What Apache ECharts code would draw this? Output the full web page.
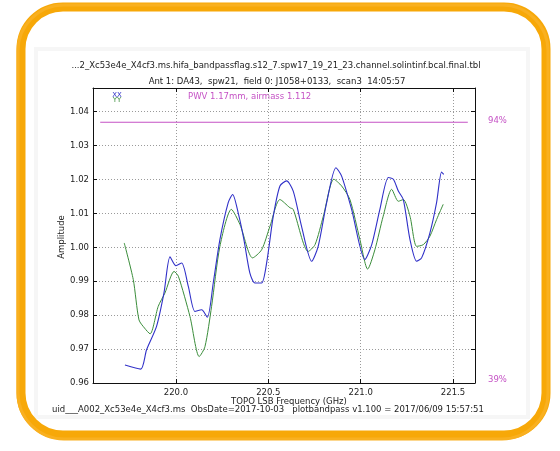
<!DOCTYPE html>
<html>
<head>
<meta charset="utf-8">
<script src="https://cdn.jsdelivr.net/npm/echarts@6/dist/echarts.min.js"></script>
<style>html,body{margin:0;padding:0;background:#fff;}#c{width:560px;height:451px;}</style>
</head>
<body>
<div id="c"></div>
<script>
// Frequencies (GHz) and amplitudes
const xxFreq = [219.724,219.809,219.841,219.895,219.935,219.968,220.0,220.031,220.067,220.103,220.139,220.17,220.202,220.238,220.283,220.307,220.337,220.368,220.40,220.428,220.464,220.491,220.527,220.563,220.599,220.635,220.68,220.735,220.77,220.816,220.866,220.897,220.951,221.023,221.06,221.104,221.15,221.177,221.204,221.231,221.267,221.303,221.33,221.375,221.411,221.438,221.45];
const xxAmp  = [0.9653,0.9641,0.9698,0.9767,0.9865,0.9972,0.9946,0.9954,0.9885,0.9811,0.9816,0.9794,0.9895,1.0023,1.0132,1.0156,1.0102,1.0023,0.9925,0.9895,0.9895,0.9954,1.0092,1.0181,1.0196,1.0166,1.0062,0.9959,1.0003,1.0132,1.0235,1.0210,1.0112,0.9964,1.0008,1.0112,1.0206,1.0201,1.0166,1.0141,1.0023,0.9959,0.9969,1.0043,1.0132,1.0222,1.0215];
const yyFreq = [219.72,219.769,219.80,219.83,219.86,219.904,219.94,219.99,220.013,220.076,220.126,220.157,220.193,220.238,220.30,220.347,220.415,220.464,220.509,220.563,220.617,220.635,220.716,220.753,220.798,220.855,220.897,220.942,220.996,221.038,221.077,221.122,221.168,221.204,221.231,221.267,221.303,221.339,221.375,221.411,221.447];
const yyAmp  = [1.0013,0.9905,0.9786,0.9762,0.9745,0.9826,0.9865,0.9929,0.9915,0.9796,0.9678,0.9707,0.9826,1.0003,1.0112,1.0067,0.9969,0.9993,1.0062,1.0141,1.0117,1.0112,0.9988,1.0008,1.0092,1.0201,1.0181,1.0141,1.0023,0.9936,0.9993,1.0092,1.0171,1.0136,1.0141,1.0092,1.0003,1.0008,1.0033,1.0082,1.0127];
const pwvFreq = [219.59, 221.58];
const pwvAmp  = [1.0369, 1.0369];
const xTicks = [220.0, 220.5, 221.0, 221.5];
const yTicks = [0.96, 0.97, 0.98, 0.99, 1.00, 1.01, 1.02, 1.03, 1.04];
const xRange = [219.551, 221.619];
const yRange = [0.96, 1.047];

const zip = (a, b) => a.map((v, i) => [v, b[i]]);
const F = 'DejaVu Sans';
const gridLine = {show: true, lineStyle: {color: '#9a9a9a', type: [1, 2], width: 1}};
const axLine = {show: true, onZero: false, lineStyle: {color: '#111', width: 1}};

const chart = echarts.init(document.getElementById('c'), null, {renderer: 'canvas'});
chart.setOption({
  animation: false,
  backgroundColor: '#fff',
  grid: {left: 93, right: 85, top: 88, bottom: 68},
  xAxis: [
    {type: 'value', min: xRange[0], max: xRange[1], position: 'bottom',
     axisLine: axLine,
     axisTick: {show: true, inside: true, length: 4, customValues: xTicks, lineStyle: {color: '#111'}},
     axisLabel: {customValues: xTicks, formatter: v => v.toFixed(1), fontFamily: F, fontSize: 8.5, color: '#222', margin: 5},
     splitLine: gridLine},
    {type: 'value', min: xRange[0], max: xRange[1], position: 'top',
     axisLine: axLine,
     axisTick: {show: true, inside: true, length: 4, customValues: xTicks, lineStyle: {color: '#111'}},
     axisLabel: {show: false}, splitLine: {show: false}}
  ],
  yAxis: [
    {type: 'value', min: yRange[0], max: yRange[1], position: 'left',
     axisLine: axLine,
     axisTick: {show: true, inside: true, length: 4, customValues: yTicks, lineStyle: {color: '#111'}},
     axisLabel: {customValues: yTicks, formatter: v => v.toFixed(2), fontFamily: F, fontSize: 8.5, color: '#222', margin: 4},
     splitLine: gridLine},
    {type: 'value', min: yRange[0], max: yRange[1], position: 'right',
     axisLine: axLine,
     axisTick: {show: true, inside: true, length: 4, customValues: yTicks, lineStyle: {color: '#111'}},
     axisLabel: {show: false}, splitLine: {show: false}}
  ],
  series: [
    {name: 'PWV', type: 'line', data: zip(pwvFreq, pwvAmp), showSymbol: false, lineStyle: {color: '#c552c5', width: 1.2}, silent: true},
    {name: 'YY', type: 'line', data: zip(yyFreq, yyAmp), showSymbol: false, smooth: 0.25, lineStyle: {color: '#3a8d3a', width: 1}, silent: true},
    {name: 'XX', type: 'line', data: zip(xxFreq, xxAmp), showSymbol: false, smooth: 0.25, lineStyle: {color: '#3030c8', width: 1.1}, silent: true}
  ],
  graphic: [
    {type: 'rect', shape: {x: 36, y: 49, width: 492, height: 368}, style: {fill: 'none', stroke: '#f6f6f6', lineWidth: 4}, silent: true},
    {type: 'rect', shape: {x: 21, y: 7, width: 525, height: 428, r: 42}, style: {fill: 'none', stroke: '#f7a808', lineWidth: 9}, silent: true},
    {type: 'rect', shape: {x: 18, y: 5, width: 530, height: 434, r: 46}, style: {fill: 'none', stroke: '#f9b020', lineWidth: 3}, silent: true},
    {type: 'text', x: 276, y: 66, style: {text: '...2_Xc53e4e_X4cf3.ms.hifa_bandpassflag.s12_7.spw17_19_21_23.channel.solintinf.bcal.final.tbl', font: '8.5px DejaVu Sans', fill: '#222', align: 'center', verticalAlign: 'middle'}},
    {type: 'text', x: 277, y: 82, style: {text: 'Ant 1: DA43,  spw21,  field 0: J1058+0133,  scan3  14:05:57', font: '8.5px DejaVu Sans', fill: '#222', align: 'center', verticalAlign: 'middle'}},
    {type: 'text', x: 117, y: 95, style: {text: 'XX', font: '7px DejaVu Sans', fill: '#3030c8', align: 'center', verticalAlign: 'middle'}},
    {type: 'text', x: 117, y: 100, style: {text: 'YY', font: '7px DejaVu Sans', fill: '#3a8d3a', align: 'center', verticalAlign: 'middle'}},
    {type: 'text', x: 188, y: 97, style: {text: 'PWV 1.17mm, airmass 1.112', font: '8.5px DejaVu Sans', fill: '#c552c5', align: 'left', verticalAlign: 'middle'}},
    {type: 'text', x: 488, y: 121, style: {text: '94%', font: '8.5px DejaVu Sans', fill: '#c552c5', align: 'left', verticalAlign: 'middle'}},
    {type: 'text', x: 488, y: 380, style: {text: '39%', font: '8.5px DejaVu Sans', fill: '#c552c5', align: 'left', verticalAlign: 'middle'}},
    {type: 'text', x: 62, y: 237, rotation: Math.PI / 2, style: {text: 'Amplitude', font: '8.5px DejaVu Sans', fill: '#222', align: 'center', verticalAlign: 'middle'}},
    {type: 'text', x: 289, y: 402, style: {text: 'TOPO LSB Frequency (GHz)', font: '8.5px DejaVu Sans', fill: '#222', align: 'center', verticalAlign: 'middle'}},
    {type: 'text', x: 268, y: 410, style: {text: 'uid___A002_Xc53e4e_X4cf3.ms  ObsDate=2017-10-03   plotbandpass v1.100 = 2017/06/09 15:57:51', font: '8.5px DejaVu Sans', fill: '#222', align: 'center', verticalAlign: 'middle'}}
  ]
});
</script>
</body>
</html>
